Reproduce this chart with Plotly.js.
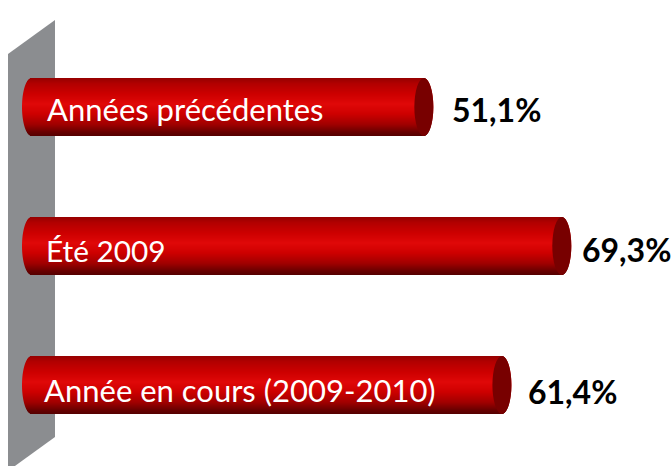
<!DOCTYPE html>
<html><head><meta charset="utf-8">
<script src="https://cdn.plot.ly/plotly-3.0.1.min.js"></script>
<style>html,body{margin:0;padding:0;background:#fff}#c{width:671px;height:466px}</style>
</head><body><div id="c"></div>
<script>
const categories = ["Années précédentes", "Été 2009", "Année en cours (2009-2010)"];
const values = [51.1, 69.3, 61.4];
const valueLabels = ["51,1%", "69,3%", "61,4%"];
const labelStart = [47, 46, 44];
const labelSizes = [31, 29.8, 31];
const labelMid = [113, 255, 394];
const valueLabelStart = [452, 582, 528];
const valueMid = [114, 254, 396];
const barTop = [78, 217, 356];

const W = 671, H = 466;
const pxX = p => (p - 46) / 7.58;
const pxY = p => (p - 106.5) / 139.5;
const capRx = 9.5, leftPx = 22;
const stops = [[0,[150,0,0]],[0.1,[178,0,0]],[0.28,[205,0,0]],[0.45,[224,8,8]],[0.62,[205,0,0]],[0.8,[160,0,0]],[0.93,[105,0,0]],[1,[85,0,0]]];
function shade(t){
  for(let i=1;i<stops.length;i++){ if(t<=stops[i][0]){
    const a=stops[i-1],b=stops[i],f=(t-a[0])/(b[0]-a[0]);
    return 'rgb('+a[1].map((c,k)=>Math.round(c+(b[1][k]-c)*f)).join(',')+')';
  }}
  return 'rgb(85,0,0)';
}
const n = 58, sx=[], sb=[], sy=[], sc=[];
const capData = capRx/7.58, stripW = 1.02/139.5;
values.forEach((v,i)=>{
  for(let k=0;k<n;k++){
    const t=(k+0.5)/n, o=2*t-1, r=capData*Math.sqrt(1-o*o);
    const lc=pxX(leftPx)+capData, rc=v-capData;
    sb.push(lc-r); sx.push(rc+r-(lc-r));
    sy.push(pxY(barTop[i]+k+0.5)); sc.push(shade(t));
  }
});
const traces=[
 {type:'bar',orientation:'h',x:sx,y:sy,base:sb,width:stripW,opacity:1,marker:{color:sc,opacity:1,line:{width:0}},hoverinfo:'skip',showlegend:false},
 {type:'scatter',mode:'text',x:labelStart.map(pxX),y:labelMid.map(pxY),text:categories,textposition:'middle right',
  textfont:{family:'Lato, Carlito, sans-serif',size:labelSizes,color:'#ffffff'},hoverinfo:'skip',showlegend:false},
 {type:'scatter',mode:'text',x:valueLabelStart.map(pxX),y:valueMid.map(pxY),text:valueLabels,textposition:'middle right',
  textfont:{family:'Lato, Carlito, sans-serif',size:32,color:'#000000',weight:700},hoverinfo:'skip',showlegend:false}
];
const wall=[[8,54],[55,20],[55,437],[8,471]];
const shapes=[{type:'path',layer:'below',xref:'x',yref:'y',
  path:'M'+wall.map(p=>pxX(p[0])+','+pxY(p[1])).join('L')+'Z',fillcolor:'#8b8d90',line:{width:0}}];
values.forEach((v,i)=>{
  shapes.push({type:'circle',layer:'above',xref:'x',yref:'y',x0:v-2*capData,x1:v,
   y0:pxY(barTop[i]),y1:pxY(barTop[i]+n),fillcolor:'#780000',line:{width:0}});
});
Plotly.newPlot('c',traces,{
  width:W,height:H,margin:{l:0,r:0,t:0,b:0},paper_bgcolor:'#fff',plot_bgcolor:'#fff',
  barmode:'overlay',showlegend:false,shapes:shapes,
  xaxis:{range:[pxX(0),pxX(W)],visible:false,fixedrange:true},
  yaxis:{range:[pxY(H),pxY(0)],visible:false,fixedrange:true}
},{displayModeBar:false,staticPlot:true});
</script></body></html>
